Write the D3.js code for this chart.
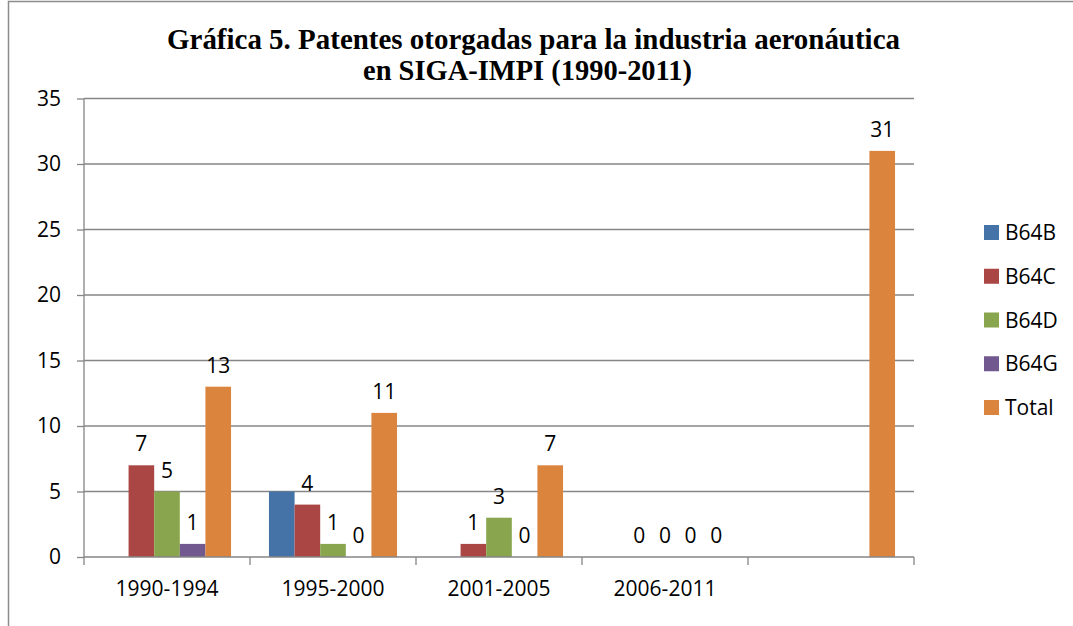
<!DOCTYPE html>
<html lang="es">
<head>
    <meta charset="UTF-8">
    <script src="https://cdn.jsdelivr.net/npm/d3@7/dist/d3.min.js"></script>
    <title>Gráfica 5</title>
    <style>
        body { margin: 0; background: #fff; }
        text { font-family: 'Open Sans', sans-serif; fill: #000; }
    </style>
</head>
<body>
    <svg width="1073" height="626"></svg>
    <script>
        // datos
        const categories = ['1990-1994', '1995-2000', '2001-2005', '2006-2011', ''];
        const seriesNames = ['B64B', 'B64C', 'B64D', 'B64G', 'Total'];
        const b64b  = [null, 5, null, null, null];
        const b64c  = [7, 4, 1, 0, null];
        const b64d  = [5, 1, 3, 0, null];
        const b64g  = [1, 0, 0, 0, null];
        const total = [13, 11, 7, 0, 31];
        const yTicks = [0, 5, 10, 15, 20, 25, 30, 35];

        const series = [
            { name: 'B64B', values: b64b, color: '#4572A7', label: false },
            { name: 'B64C', values: b64c, color: '#AA4643', label: true },
            { name: 'B64D', values: b64d, color: '#89A54E', label: true },
            { name: 'B64G', values: b64g, color: '#71588F', label: true },
            { name: 'Total', values: total, color: '#DB843D', label: true }
        ];

        const plot = { left: 84, right: 914, top: 98.5, bottom: 557 };
        const fontSize = '21px';
        const svg = d3.select('svg');

        // marco del gráfico
        svg.append('rect')
            .attr('x', 8.5).attr('y', 1.5)
            .attr('width', 1200).attr('height', 800)
            .attr('fill', 'none').attr('stroke', '#8c8c8c').attr('stroke-width', 1.5);

        // título
        const title = svg.append('g')
            .style('font-family', "'Liberation Serif', 'Times New Roman', serif")
            .style('font-weight', 'bold')
            .style('font-size', '29px');
        title.append('text').attr('x', 167).attr('y', 49)
            .attr('textLength', 733).attr('lengthAdjust', 'spacingAndGlyphs')
            .style('font-family', 'inherit')
            .text('Gráfica 5. Patentes otorgadas para la industria aeronáutica');
        title.append('text').attr('x', 363).attr('y', 80)
            .attr('textLength', 329).attr('lengthAdjust', 'spacingAndGlyphs')
            .style('font-family', 'inherit')
            .text('en SIGA-IMPI (1990-2011)');

        // escalas
        const x0 = d3.scaleBand()
            .domain(categories.map((d, i) => i))
            .range([plot.left, plot.right]);
        const x1 = d3.scaleBand()
            .domain(seriesNames)
            .range([0, x0.bandwidth()])
            .paddingOuter(0.74);
        const y = d3.scaleLinear()
            .domain([0, 35])
            .range([plot.bottom, plot.top]);

        // líneas de cuadrícula
        svg.append('g')
            .selectAll('line')
            .data(yTicks.filter(d => d > 0))
            .enter()
            .append('line')
            .attr('x1', plot.left).attr('x2', plot.right)
            .attr('y1', d => y(d)).attr('y2', d => y(d))
            .attr('stroke', '#868686').attr('stroke-width', 1.3);

        // barras
        const groups = svg.append('g')
            .selectAll('g')
            .data(series)
            .enter()
            .append('g')
            .attr('fill', d => d.color);

        groups.selectAll('rect')
            .data(d => d.values.map((v, i) => ({ v: v, i: i, name: d.name })).filter(e => e.v !== null))
            .enter()
            .append('rect')
            .attr('x', d => x0(d.i) + x1(d.name))
            .attr('y', d => y(d.v))
            .attr('width', x1.bandwidth())
            .attr('height', d => y(0) - y(d.v));

        // etiquetas de datos
        svg.append('g')
            .selectAll('g')
            .data(series.filter(s => s.label))
            .enter()
            .append('g')
            .selectAll('text')
            .data(d => d.values.map((v, i) => ({ v: v, i: i, name: d.name })).filter(e => e.v !== null))
            .enter()
            .append('text')
            .attr('x', d => x0(d.i) + x1(d.name) + x1.bandwidth() / 2)
            .attr('y', d => y(d.v) - 14)
            .attr('text-anchor', 'middle')
            .style('font-size', fontSize)
            .text(d => d.v);

        // eje y
        const yAxis = svg.append('g')
            .attr('transform', `translate(${plot.left},0)`)
            .call(d3.axisLeft(y).tickValues(yTicks).tickSize(7).tickPadding(16).tickSizeOuter(0));
        yAxis.selectAll('text').style('font-size', fontSize).style('font-family', "'Open Sans', sans-serif");

        // eje x
        const xAxis = svg.append('g')
            .attr('transform', `translate(0,${plot.bottom})`)
            .call(d3.axisBottom(x0).tickSize(0).tickPadding(24).tickFormat(i => categories[i]));
        xAxis.selectAll('text').style('font-size', fontSize).style('font-family', "'Open Sans', sans-serif");
        xAxis.select('.domain').remove();
        yAxis.select('.domain').remove();

        svg.append('g')
            .selectAll('line')
            .data(categories.map((d, i) => x0(i)).concat([plot.right]))
            .enter()
            .append('line')
            .attr('x1', d => d).attr('x2', d => d)
            .attr('y1', plot.bottom).attr('y2', plot.bottom + 8)
            .attr('stroke', '#868686').attr('stroke-width', 1.3);

        svg.append('line')
            .attr('x1', plot.left).attr('x2', plot.right)
            .attr('y1', plot.bottom).attr('y2', plot.bottom)
            .attr('stroke', '#868686').attr('stroke-width', 1.3);
        svg.append('line')
            .attr('x1', plot.left).attr('x2', plot.left)
            .attr('y1', plot.top).attr('y2', plot.bottom)
            .attr('stroke', '#868686').attr('stroke-width', 1.3);
        svg.selectAll('.tick line').attr('stroke', '#868686').attr('stroke-width', 1.3);

        // leyenda
        const legend = svg.append('g')
            .selectAll('g')
            .data(series)
            .enter()
            .append('g')
            .attr('transform', (d, i) => `translate(984,${232.5 + i * 43.75})`);
        legend.append('rect')
            .attr('x', 0).attr('y', -7.5)
            .attr('width', 15).attr('height', 15)
            .attr('fill', d => d.color);
        legend.append('text')
            .attr('x', 21).attr('y', 7.5)
            .style('font-size', fontSize)
            .text(d => d.name);
    </script>
</body>
</html>
